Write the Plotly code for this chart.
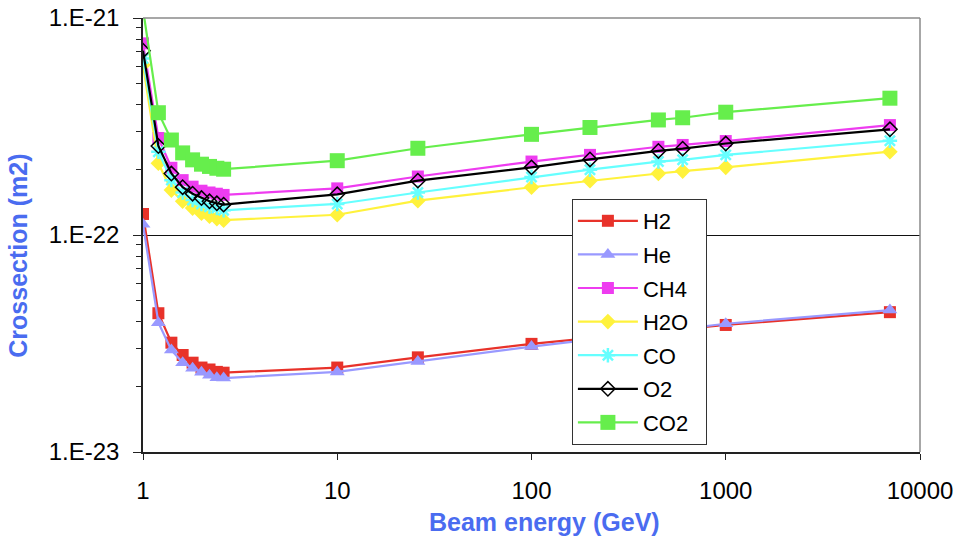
import plotly.graph_objects as go

# Beam energies (GeV)
energy = [1, 1.2, 1.4, 1.6, 1.8, 2.0, 2.2, 2.4, 2.6,
          10, 26, 100, 200, 450, 600, 1000, 7000]
energy_light = [1, 1.2, 1.4, 1.6, 1.8, 2.0, 2.2, 2.4, 2.6,
                10, 26, 100, 1000, 7000]

# Cross sections (m2)
h2 = [1.25e-22, 4.36e-23, 3.19e-23, 2.80e-23, 2.58e-23, 2.45e-23, 2.40e-23,
      2.34e-23, 2.32e-23, 2.45e-23, 2.73e-23, 3.15e-23, 3.85e-23, 4.41e-23]
he = [1.12e-22, 3.94e-23, 2.95e-23, 2.58e-23, 2.43e-23, 2.33e-23, 2.26e-23,
      2.20e-23, 2.19e-23, 2.34e-23, 2.61e-23, 3.06e-23, 3.90e-23, 4.51e-23]
ch4 = [7.64e-22, 2.80e-22, 2.04e-22, 1.79e-22, 1.67e-22, 1.60e-22, 1.57e-22,
       1.55e-22, 1.53e-22, 1.64e-22, 1.86e-22, 2.18e-22, 2.34e-22, 2.55e-22,
       2.60e-22, 2.71e-22, 3.21e-22]
h2o = [6.07e-22, 2.14e-22, 1.61e-22, 1.43e-22, 1.33e-22, 1.26e-22, 1.22e-22,
       1.19e-22, 1.17e-22, 1.24e-22, 1.44e-22, 1.66e-22, 1.78e-22, 1.92e-22,
       1.97e-22, 2.05e-22, 2.42e-22]
co = [6.50e-22, 2.42e-22, 1.79e-22, 1.57e-22, 1.45e-22, 1.39e-22, 1.35e-22,
      1.33e-22, 1.30e-22, 1.39e-22, 1.57e-22, 1.85e-22, 2.00e-22, 2.18e-22,
      2.22e-22, 2.34e-22, 2.72e-22]
o2 = [7.07e-22, 2.57e-22, 1.92e-22, 1.66e-22, 1.55e-22, 1.48e-22, 1.43e-22,
      1.40e-22, 1.38e-22, 1.54e-22, 1.78e-22, 2.05e-22, 2.23e-22, 2.44e-22,
      2.50e-22, 2.64e-22, 3.07e-22]
co2 = [1.10e-21, 3.66e-22, 2.74e-22, 2.39e-22, 2.22e-22, 2.12e-22, 2.07e-22,
       2.03e-22, 2.01e-22, 2.20e-22, 2.51e-22, 2.91e-22, 3.13e-22, 3.39e-22,
       3.47e-22, 3.68e-22, 4.27e-22]

x_ticks = [1, 10, 100, 1000, 10000]
x_ticktext = ["1", "10", "100", "1000", "10000"]
y_ticks = [1e-23, 1e-22, 1e-21]
y_ticktext = ["1.E-23", "1.E-22", "1.E-21"]

series = [
    ("H2", energy_light, h2, "#e8322a", dict(symbol="square", size=12)),
    ("He", energy_light, he, "#9999ff", dict(symbol="triangle-up", size=13)),
    ("CH4", energy, ch4, "#ee3cf0", dict(symbol="square", size=12)),
    ("H2O", energy, h2o, "#fff23c", dict(symbol="diamond", size=12)),
    ("CO", energy, co, "#66ffff", dict(symbol="asterisk-open", size=12,
                                       line=dict(width=2.5, color="#66ffff"))),
    ("O2", energy, o2, "#000000", dict(symbol="diamond-open", size=11,
                                       line=dict(width=1.5, color="#000000"))),
    ("CO2", energy, co2, "#66ee4c", dict(symbol="square", size=15)),
]

# trailing no-break spaces give the legend box some right-hand padding
PAD = "\u00a0\u00a0"

fig = go.Figure()
for name, xs, ys, color, marker in series:
    marker = dict(marker)
    marker.setdefault("color", color)
    fig.add_trace(go.Scatter(
        x=xs, y=ys, name=name + PAD, mode="lines+markers",
        line=dict(color=color, width=2.2),
        marker=marker, legendgroup=name,
    ))

fig.update_layout(
    width=957, height=540,
    margin=dict(l=143, r=37, t=18, b=88),
    paper_bgcolor="white", plot_bgcolor="white",
    font=dict(family="Liberation Sans, Arial, sans-serif", color="black"),
    showlegend=True,
    legend=dict(
        x=0.552, y=0.583, xanchor="left", yanchor="top",
        bgcolor="white", bordercolor="#333333", borderwidth=1,
        font=dict(size=22, color="black"),
        itemwidth=60, tracegroupgap=2,
    ),
    xaxis=dict(
        type="log", range=[0, 4], automargin=False,
        tickvals=x_ticks, ticktext=x_ticktext,
        tickfont=dict(size=24), ticks="outside", ticklen=6,
        tickcolor="#222222", ticklabelstandoff=10,
        showline=True, linecolor="#222222", linewidth=1.5,
        showgrid=False, zeroline=False,
    ),
    yaxis=dict(
        type="log", range=[-23, -21], automargin=False,
        tickvals=y_ticks, ticktext=y_ticktext,
        tickfont=dict(size=24), ticks="outside", ticklen=8,
        tickcolor="#222222", ticklabelstandoff=9,
        showline=True, linecolor="#222222", linewidth=1.5,
        showgrid=True, gridcolor="#111111", gridwidth=1,
        zeroline=False,
        minor=dict(dtick="D1", ticks="outside", ticklen=5,
                   tickcolor="#222222", showgrid=False),
    ),
    shapes=[
        dict(type="line", xref="paper", yref="paper", x0=0, x1=1, y0=1, y1=1,
             line=dict(color="#8a8a8a", width=1.5), layer="above"),
        dict(type="line", xref="paper", yref="paper", x0=1, x1=1, y0=0, y1=1,
             line=dict(color="#8a8a8a", width=1.5), layer="above"),
    ],
    annotations=[
        dict(text="<b>Crossection (m2)</b>", xref="paper", yref="paper",
             x=-0.161, y=0.452, xanchor="center", yanchor="middle",
             textangle=-90, showarrow=False,
             font=dict(size=25, color="#4a6cf0")),
        dict(text="<b>Beam energy (GeV)</b>", xref="paper", yref="paper",
             x=0.517, y=-0.161, xanchor="center", yanchor="middle",
             showarrow=False, font=dict(size=25, color="#4a6cf0")),
    ],
)

fig.write_html("out.html")
